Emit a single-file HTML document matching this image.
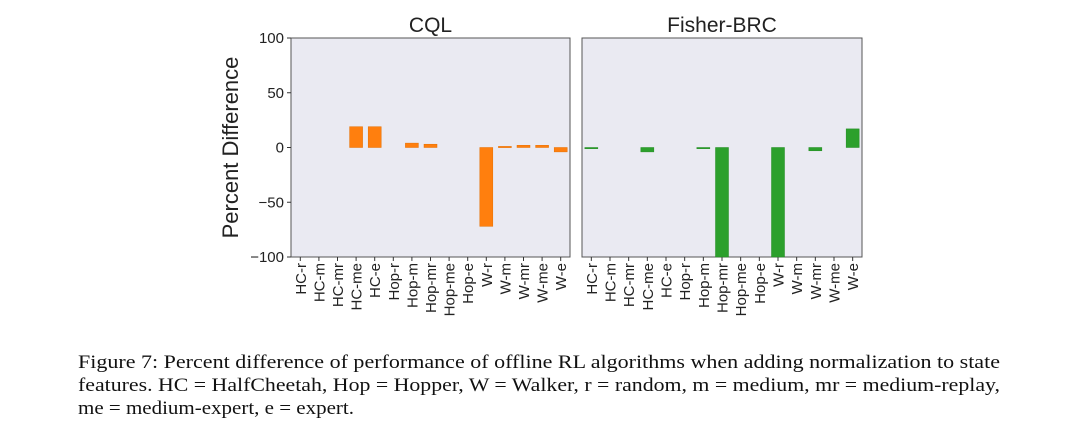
<!DOCTYPE html>
<html><head><meta charset="utf-8"><style>
body{margin:0;background:#fff;}
svg{display:block;}
text{font-family:"Liberation Sans",sans-serif;fill:#222;}
.cap{font-family:"Liberation Serif",serif;font-size:19px;fill:#111;}
</style></head><body>
<svg id="chart" width="1080" height="422" viewBox="0 0 1080 422" xmlns="http://www.w3.org/2000/svg">
<text class="cap" x="78" y="368" textLength="922" lengthAdjust="spacingAndGlyphs">Figure 7: Percent difference of performance of offline RL algorithms when adding normalization to state</text>
<text class="cap" x="78" y="391" textLength="922" lengthAdjust="spacingAndGlyphs">features. HC = HalfCheetah, Hop = Hopper, W = Walker, r = random, m = medium, mr = medium-replay,</text>
<text class="cap" x="78" y="414" textLength="276" lengthAdjust="spacingAndGlyphs">me = medium-expert, e = expert.</text>
</svg>
<script>
const categories=["HC-r","HC-m","HC-mr","HC-me","HC-e","Hop-r","Hop-m","Hop-mr","Hop-me","Hop-e","W-r","W-m","W-mr","W-me","W-e"];
const cqlValues=[0,0,0,19,19,0,4,3,0,0,-72,1,2,2,-4];
const fisherValues=[-0.6,0,0,-4,0,0,-0.6,-100,0,0,-100,0,-3,0,17];
const yTicks=[100,50,0,-50,-100];
const panelTitles=["CQL","Fisher-BRC"];
(function(){
const NS="http://www.w3.org/2000/svg";
const svg=document.getElementById('chart');
function mk(tag,attrs,parent){const e=document.createElementNS(NS,tag);for(const k in attrs)e.setAttribute(k,attrs[k]);(parent||svg).appendChild(e);return e;}
const plotTop=38,plotBot=257;
function yS(v){return plotTop+(100-v)/200*(plotBot-plotTop);}
function drawPanel(x0,x1,vals,color,edge,title,showY){
  const g=mk('g',{});
  
  
  const bg=mk('rect',{x:x0,y:plotTop,width:x1-x0,height:plotBot-plotTop,fill:'#eaeaf2',stroke:'#555','stroke-width':1},g);
  
  
  const t=mk('text',{x:(x0+x1)/2,y:32,'text-anchor':'middle','font-size':'21px'},g);
  t.textContent=title;
  
  
  const n=categories.length, step=(x1-x0)/n;
  function xS(i){return x0+step*(i+0.5);}
  categories.forEach((c,i)=>{
    const x=xS(i);
    mk('line',{x1:x,x2:x,y1:plotBot,y2:plotBot+4,stroke:'#333'},g);
    const lt=mk('text',{transform:`translate(${x+5.5},${plotBot+6}) rotate(-90)`,'text-anchor':'end','font-size':'15px'},g);
    lt.textContent=c;
    
    
    const v=vals[i];
    if(v!==0){
      const ya=yS(Math.max(v,0)),yb=yS(Math.min(v,0));
      const b=mk('rect',{x:x-6.5,y:ya,width:13,height:Math.max(yb-ya,1.2),fill:color,stroke:edge,'stroke-width':0.5},g);
      
      
    }
  });
  if(showY){
    yTicks.forEach(v=>{
      const y=yS(v);
      mk('line',{x1:x0-4,x2:x0,y1:y,y2:y,stroke:'#333'},g);
      const tt=mk('text',{x:x0-7,y:y+5,'text-anchor':'end','font-size':'15px'},g);
      tt.textContent=v<0?'\u2212'+Math.abs(v):String(v);
      
      
    });
    const yl=mk('text',{transform:`translate(238,${(plotTop+plotBot)/2}) rotate(-90)`,'text-anchor':'middle','font-size':'22px'},g);
    yl.textContent='Percent Difference';
    
    
  }
}
drawPanel(291,570,cqlValues,'#ff7f0e','#e56f00',panelTitles[0],true);
drawPanel(582,862,fisherValues,'#2ca02c','#228b22',panelTitles[1],false);
})();
</script>
</body></html>
